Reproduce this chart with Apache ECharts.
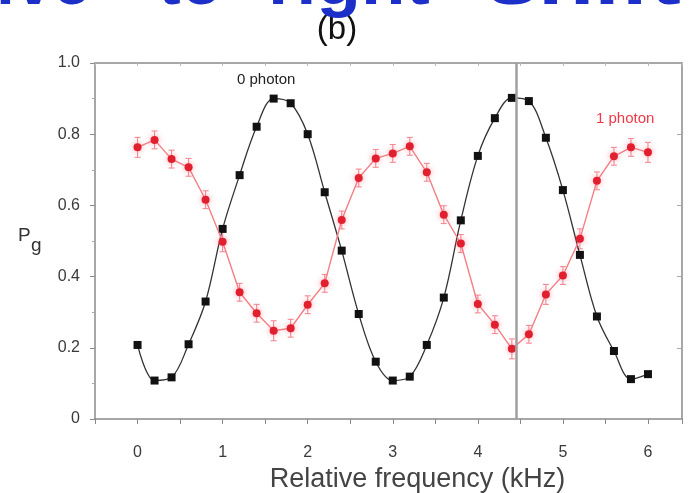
<!DOCTYPE html>
<html>
<head>
<meta charset="utf-8">
<script src="https://cdn.jsdelivr.net/npm/echarts@6/dist/echarts.min.js"></script>
<style>html,body{margin:0;padding:0;background:#fff}#c{width:692px;height:493px}</style>
</head>
<body>
<div id="c"></div>
<script>
// Relative frequency (kHz)
const freq = [0,0.2,0.4,0.6,0.8,1.0,1.2,1.4,1.6,1.8,2.0,2.2,2.4,2.6,2.8,3.0,3.2,3.4,3.6,3.8,4.0,4.2,4.4,4.6,4.8,5.0,5.2,5.4,5.6,5.8,6.0];
// 0 photon (black squares, fitted curve)
const zeroPhoton = [0.208,0.108,0.117,0.210,0.330,0.534,0.685,0.821,0.900,0.887,0.800,0.637,0.473,0.295,0.161,0.108,0.119,0.208,0.341,0.558,0.739,0.845,0.902,0.893,0.790,0.643,0.461,0.288,0.191,0.112,0.126];
// 1 photon (red circles with error bars)
const onePhoton = [0.763,0.784,0.730,0.707,0.616,0.498,0.356,0.297,0.248,0.255,0.321,0.381,0.559,0.677,0.732,0.746,0.766,0.693,0.574,0.493,0.323,0.265,0.197,0.238,0.350,0.403,0.506,0.669,0.738,0.763,0.749];
const onePhotonErr = [0.028,0.025,0.025,0.025,0.025,0.028,0.025,0.025,0.028,0.025,0.025,0.025,0.025,0.025,0.025,0.025,0.025,0.025,0.025,0.025,0.025,0.025,0.028,0.025,0.028,0.025,0.028,0.025,0.025,0.025,0.028];
const yTicks = ['0','0.2','0.4','0.6','0.8','1.0'];
const xTicks = ['0','1','2','3','4','5','6'];
const markerLine = 4.45;

const chart = echarts.init(document.getElementById('c'), null, {renderer:'canvas'});
const axisCol = '#8a8a8a';
const txtCol = '#3a3a3a';
const font = 'Liberation Sans, Arial, sans-serif';

const zeroData = freq.map((x,i)=>[x, zeroPhoton[i]]);
const oneData = freq.map((x,i)=>[x, onePhoton[i]]);
const errData = freq.map((x,i)=>[x, onePhoton[i]-onePhotonErr[i], onePhoton[i]+onePhotonErr[i]]);

chart.setOption({
  animation:false,
  backgroundColor:'#fff',
  grid:{left:95, right:10, top:63, bottom:74, containLabel:false, outerBoundsMode:'none'},
  xAxis:[{
    type:'value', min:-0.5, max:6.4, interval:0.5, position:'bottom',
    axisLine:{show:true, onZero:false, lineStyle:{color:axisCol, width:1.5}},
    axisTick:{show:true, length:5, lineStyle:{color:axisCol}},
    splitLine:{show:false},
    axisLabel:{color:txtCol, fontSize:16, fontFamily:font, margin:26,
      formatter:v=>{const k=Math.round(v); return (Math.abs(v-k)<1e-6 && k>=0 && k<xTicks.length)? xTicks[k] : '';}},
    name:'Relative frequency (kHz)', nameLocation:'middle', nameGap:47,
    nameTextStyle:{color:'#444', fontSize:27, fontFamily:font, padding:[0,0,0,58]}
  },{
    type:'value', min:-0.5, max:6.4, interval:0.5, position:'top',
    axisLine:{show:true, onZero:false, lineStyle:{color:axisCol, width:1.5}},
    axisTick:{show:true, inside:true, length:3, lineStyle:{color:'#bbb'}},
    axisLabel:{show:false}, splitLine:{show:false}
  }],
  yAxis:[{
    type:'value', min:0, max:1, interval:0.2, position:'left',
    axisLine:{show:true, onZero:false, lineStyle:{color:axisCol, width:1.5}},
    axisTick:{show:true, length:5, lineStyle:{color:axisCol}},
    minorTick:{show:true, splitNumber:2, length:3, lineStyle:{color:'#aaa'}},
    splitLine:{show:false},
    axisLabel:{color:txtCol, fontSize:16, fontFamily:font, margin:15,
      formatter:v=>yTicks[Math.round(v*5)]}
  },{
    type:'value', min:0, max:1, interval:0.2, position:'right',
    axisLine:{show:true, onZero:false, lineStyle:{color:axisCol, width:1.5}},
    axisTick:{show:true, inside:true, length:5, lineStyle:{color:'#aaa'}},
    axisLabel:{show:false}, splitLine:{show:false}
  }],
  series:[
    {
      type:'line', data:zeroData, smooth:0.35, xAxisIndex:0, yAxisIndex:0,
      symbol:'rect', symbolSize:8, z:3,
      lineStyle:{color:'#333', width:1.3},
      itemStyle:{color:'#111'},
      markLine:{silent:true, symbol:'none', label:{show:false},
        lineStyle:{color:'#a0a0a0', width:2.5, type:'solid'},
        data:[{xAxis:markerLine}]}
    },
    {
      type:'custom', data:errData, xAxisIndex:0, yAxisIndex:0, z:2,
      renderItem:(params, api)=>{
        const x = api.value(0);
        const lo = api.coord([x, api.value(1)]);
        const hi = api.coord([x, api.value(2)]);
        const st = {stroke:'#f58a95', lineWidth:1.1};
        return {type:'group', children:[
          {type:'line', shape:{x1:lo[0], y1:lo[1], x2:hi[0], y2:hi[1]}, style:st},
          {type:'line', shape:{x1:lo[0]-3, y1:lo[1], x2:lo[0]+3, y2:lo[1]}, style:st},
          {type:'line', shape:{x1:hi[0]-3, y1:hi[1], x2:hi[0]+3, y2:hi[1]}, style:st}
        ]};
      }
    },
    {
      type:'line', data:oneData, smooth:false, xAxisIndex:0, yAxisIndex:0,
      symbol:'circle', symbolSize:8, z:4,
      lineStyle:{color:'#f47f86', width:1.4},
      itemStyle:{color:'#e0202e', shadowColor:'rgba(255,90,110,0.6)', shadowBlur:6}
    }
  ],
  graphic:[
    {type:'text', left:237, top:72, z:10, style:{text:'0 photon', fill:'#222', font:'15px '+font}},
    {type:'text', left:596, top:111, z:10, style:{text:'1 photon', fill:'#ee3a48', font:'15px '+font}},
    {type:'text', left:18, top:226, z:10, style:{text:'P', fill:'#333', font:'19px '+font}},
    {type:'text', left:31, top:236, z:10, style:{text:'g', fill:'#333', font:'19px '+font}},
    {type:'text', x:337, y:30, z:10, style:{text:'(b)', fill:'#111', font:'33px '+font, align:'center', verticalAlign:'middle'}},
    {type:'text', x:-4, y:-15, z:11, style:{text:'ive', fill:'#1c2fc8', font:'bold 68px '+font, verticalAlign:'middle'}},
    {type:'text', x:158, y:-15, z:11, style:{text:'to', fill:'#1c2fc8', font:'bold 68px '+font, verticalAlign:'middle'}},
    {type:'text', x:268, y:-15, scaleX:1.07, z:11, style:{text:'right', fill:'#1c2fc8', font:'bold 68px '+font, verticalAlign:'middle'}},
    {type:'text', x:487, y:-15, scaleX:1.35, z:11, style:{text:'shift', fill:'#1c2fc8', font:'bold 68px '+font, verticalAlign:'middle'}}
  ]
});
</script>
</body>
</html>
